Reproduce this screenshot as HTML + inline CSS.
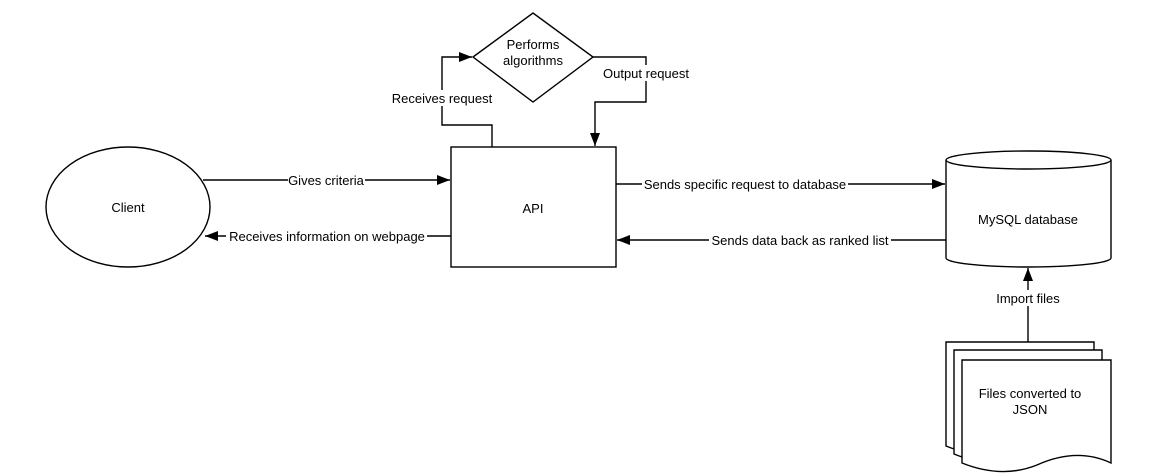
<!DOCTYPE html>
<html><head><style>body{margin:0;background:#fff}svg{display:block}</style></head><body>
<svg width="1165" height="475" viewBox="0 0 1165 475" xmlns="http://www.w3.org/2000/svg" font-family="Liberation Sans, Arial, sans-serif" font-size="13" fill="none" stroke="#000" stroke-width="1.4">
<defs><marker id="a" markerWidth="13" markerHeight="10" refX="13" refY="5" orient="auto" markerUnits="userSpaceOnUse"><path d="M0,0L13,5L0,10z" fill="#000" stroke="none"/></marker></defs>
<ellipse cx="128" cy="207" rx="82" ry="60" fill="#fff"/>
<rect x="451" y="147" width="165" height="120" fill="#fff"/>
<path d="M473,57L533,13L593,57L533,102z" fill="#fff"/>
<path d="M946,160 A82.5,9 0 0 1 1111,160 L1111,258 A82.5,9 0 0 1 946,258z" fill="#fff"/>
<path d="M946,160 A82.5,9 0 0 0 1111,160"/>
<path d="M946,342H1094V446 Q1060,430 1020,448 Q985,462 946,446z" fill="#fff"/>
<path d="M954,350H1102V454 Q1068,438 1028,456 Q993,470 954,454z" fill="#fff"/>
<path d="M962,360H1111V463 Q1077,447 1037,465 Q1002,479 962,463z" fill="#fff"/>
<g marker-end="url(#a)">
<path d="M203,180H450"/>
<path d="M451,236H205"/>
<path d="M616,184H945"/>
<path d="M946,240H617"/>
<path d="M492,147V125H442V57H472"/>
<path d="M593,57H646V102H595V146"/>
<path d="M1028,342V268"/>
</g>
<g fill="#000" stroke="none">
<rect x="288" y="172" width="77" height="16" fill="#fff"/>
<rect x="226" y="228" width="201" height="16" fill="#fff"/>
<rect x="642" y="176" width="206" height="16" fill="#fff"/>
<rect x="709" y="232" width="182" height="16" fill="#fff"/>
<rect x="390" y="90" width="104" height="16" fill="#fff"/>
<rect x="602" y="65" width="88" height="16" fill="#fff"/>
<rect x="997" y="290" width="62" height="16" fill="#fff"/>
<text x="326" y="185" text-anchor="middle">Gives criteria</text>
<text x="327" y="241" text-anchor="middle">Receives information on webpage</text>
<text x="745" y="189" text-anchor="middle">Sends specific request to database</text>
<text x="800" y="245" text-anchor="middle">Sends data back as ranked list</text>
<text x="442" y="103" text-anchor="middle">Receives request</text>
<text x="646" y="78" text-anchor="middle">Output request</text>
<text x="1028" y="303" text-anchor="middle">Import files</text>
<text x="128" y="212" text-anchor="middle">Client</text>
<text x="533" y="213" text-anchor="middle">API</text>
<text x="533" y="49" text-anchor="middle">Performs</text>
<text x="533" y="65" text-anchor="middle">algorithms</text>
<text x="1028" y="224" text-anchor="middle">MySQL database</text>
<text x="1030" y="398" text-anchor="middle">Files converted to</text>
<text x="1030" y="414" text-anchor="middle">JSON</text>
</g>
</svg>
</body></html>
